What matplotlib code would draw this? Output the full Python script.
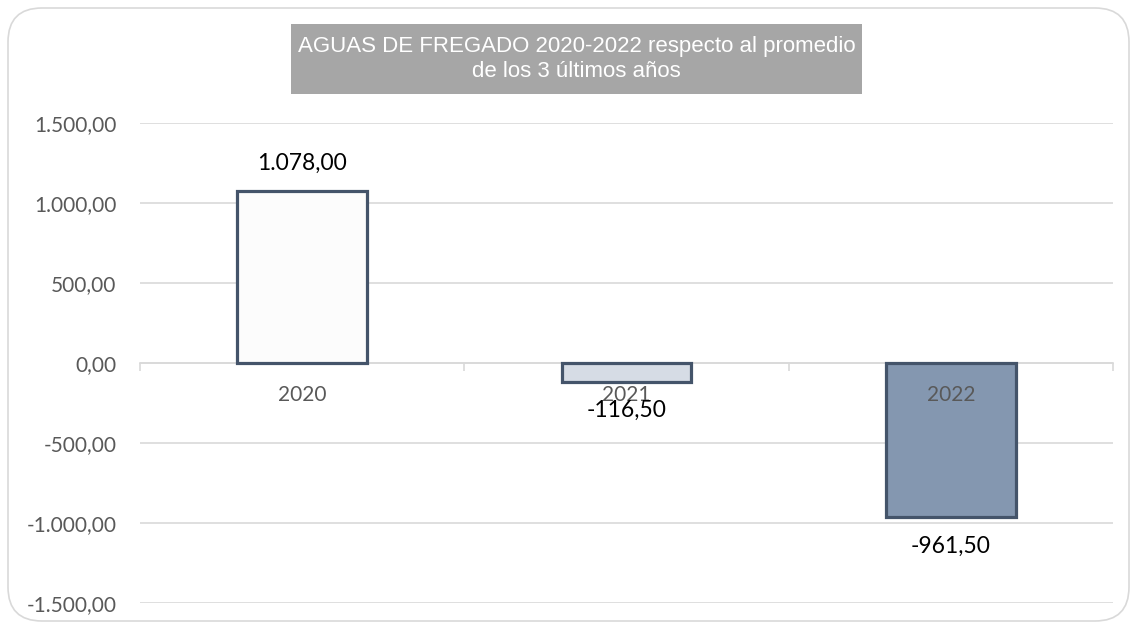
import matplotlib
matplotlib.use("Agg")
import matplotlib.pyplot as plt
from matplotlib.patches import FancyBboxPatch
from matplotlib.ticker import FuncFormatter, FixedLocator
from matplotlib.transforms import offset_copy

categories = ["2020", "2021", "2022"]
values = [1078.00, -116.50, -961.50]
fill_colors = ["#FCFCFC", "#D6DCE5", "#8497B0"]
y_ticks = [-1500, -1000, -500, 0, 500, 1000, 1500]
title = "AGUAS DE FREGADO 2020-2022 respecto al promedio\nde los 3 últimos años"

W, H, DPI = 1133, 623, 100
fig = plt.figure(figsize=(W / DPI, H / DPI), dpi=DPI)
fig.patch.set_facecolor("white")

plt.rcParams["font.family"] = ["Lato", "DejaVu Sans"]


def es_num(v, pos=None):
    s = f"{abs(v):,.2f}".replace(",", "X").replace(".", ",").replace("X", ".")
    return ("-" if v < 0 else "") + s


# rounded chart frame
frame = FancyBboxPatch((8 / W, 2 / H), (1121) / W, (613) / H,
                       boxstyle="round,pad=0,rounding_size=0.03",
                       transform=fig.transFigure, facecolor="none",
                       edgecolor="#D9D9D9", linewidth=1.2, mutation_aspect=W / H)
fig.patches.append(frame)

left, right, top, bottom = 140, 1113, 123, 603
ax = fig.add_axes([left / W, (H - bottom) / H, (right - left) / W, (bottom - top) / H])
ax.set_facecolor("none")

x = list(range(len(categories)))
ax.bar(x, values, width=0.40, color=fill_colors, edgecolor="#44546A",
       linewidth=2.3, zorder=2)

ax.set_xlim(-0.5, len(categories) - 0.5)
ax.set_ylim(y_ticks[0], y_ticks[-1])
ax.yaxis.set_major_locator(FixedLocator(y_ticks))
ax.yaxis.set_major_formatter(FuncFormatter(es_num))
ax.grid(axis="y", color="#D9D9D9", linewidth=1.2, zorder=0)
ax.set_axisbelow(True)

for s in ["top", "right", "left"]:
    ax.spines[s].set_visible(False)
ax.spines["bottom"].set_position(("data", 0))
ax.spines["bottom"].set_color("#D9D9D9")
ax.spines["bottom"].set_linewidth(1.2)
ax.spines["bottom"].set_zorder(1)

ax.tick_params(axis="y", length=0, pad=17, labelsize=15, labelcolor="#595959")
ax.set_xticks(x)
ax.set_xticklabels([])
ax.set_xticks([i - 0.5 for i in range(len(categories) + 1)], minor=True)
ax.tick_params(axis="x", which="major", length=0)
ax.tick_params(axis="x", which="minor", length=6, width=1.2, color="#D9D9D9",
               direction="out")

# category labels next to the zero line, drawn above the bars
cat_tr = offset_copy(ax.transData, fig=fig, x=0, y=-16, units="points")
for xi, c in zip(x, categories):
    ax.text(xi, 0, c, transform=cat_tr, ha="center", va="top", fontsize=15,
            color="#595959", zorder=6)

# value labels at the outer end of each bar
for xi, v in zip(x, values):
    off = 19.5 if v >= 0 else -21
    ax.annotate(es_num(v), (xi, v), xytext=(0, off), textcoords="offset points",
                ha="center", va="center", fontsize=16.5, color="black", zorder=7)

# title box
fig.patches.append(plt.Rectangle((291 / W, (H - 94) / H), (862 - 291) / W, 70 / H,
                                 transform=fig.transFigure, facecolor="#A6A6A6",
                                 edgecolor="none"))
fig.text((291 + 862) / 2 / W, (H - 59) / H, title, ha="center", va="center",
         color="white", fontsize=16, linespacing=1.3,
         family=["Liberation Sans Narrow", "Liberation Sans", "DejaVu Sans"])

fig.savefig("out.png", dpi=DPI)
